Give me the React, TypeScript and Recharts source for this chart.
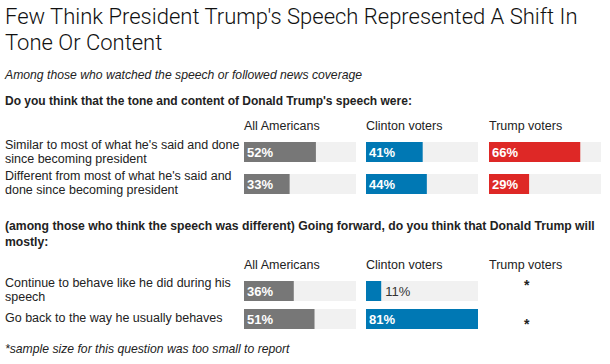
import React from "react";
import { BarChart, Bar, XAxis, YAxis } from "recharts";

// Survey data
const groups = ["All Americans", "Clinton voters", "Trump voters"];
const groupColors = ["#777777", "#0078b4", "#de2826"];

const q1Question = "Do you think that the tone and content of Donald Trump's speech were:";
const q1Answers = [
  ["Similar to most of what he's said and done", "since becoming president"],
  ["Different from most of what he's said and", "done since becoming president"],
];
const q1All = [52, 33];
const q1Clinton = [41, 44];
const q1Trump = [66, 29];

const q2Question = [
  "(among those who think the speech was different) Going forward, do you think that Donald Trump will",
  "mostly:",
];
const q2Answers = [
  ["Continue to behave like he did during his", "speech"],
  ["Go back to the way he usually behaves"],
];
const q2All = [36, 51];
const q2Clinton = [11, 81];
const q2Trump = ["*", "*"];

const maxValue = 81;

const FONT = "'Liberation Sans', Arial, Helvetica, sans-serif";
const TEXT = "#222";

const colX = [244, 366, 489];
const colW = 112;

const renderLabel = (props: any) => {
  const { x, y, width, height, value } = props;
  const inside = width > 25;
  return (
    <text
      x={inside ? x + 3 : x + width + 4}
      y={y + height / 2}
      dy={5}
      fill={inside ? "#fff" : "#333"}
      fontSize={13}
      fontWeight={inside ? "bold" : "normal"}
      fontFamily={FONT}
    >
      {`${value}%`}
    </text>
  );
};

function MiniBars({ values, color, band, left, top }: { values: number[]; color: string; band: number; left: number; top: number }) {
  const data = values.map((v, i) => ({ name: `r${i}`, value: v }));
  return (
    <div style={{ position: "absolute", left, top }}>
      <BarChart
        width={colW}
        height={band * values.length}
        data={data}
        layout="vertical"
        margin={{ top: 0, right: 0, bottom: 0, left: 0 }}
        barCategoryGap={band - 20}
      >
        <XAxis type="number" domain={[0, maxValue]} hide />
        <YAxis type="category" dataKey="name" hide />
        <Bar
          dataKey="value"
          fill={color}
          barSize={20}
          background={{ fill: "#f1f1f1" }}
          label={renderLabel}
          isAnimationActive={false}
        />
      </BarChart>
    </div>
  );
}

function Line({ text, top, left = 5, size = 12.5, weight = "normal", italic = false, lh = 15 }: any) {
  return (
    <div
      style={{
        position: "absolute",
        left,
        top: top - lh / 2,
        fontSize: size,
        lineHeight: `${lh}px`,
        fontWeight: weight,
        fontStyle: italic ? "italic" : "normal",
        whiteSpace: "nowrap",
        color: TEXT,
      }}
    >
      {text}
    </div>
  );
}

export default function App() {
  return (
    <div
      style={{
        position: "absolute",
        left: 0,
        top: 0,
        width: 610,
        height: 364,
        background: "#fff",
        fontFamily: FONT,
        overflow: "hidden",
      }}
    >
      <div
        style={{
          position: "absolute",
          left: 5,
          top: 4,
          fontFamily: "Roboto, sans-serif",
          fontWeight: 300,
          fontSize: 22,
          lineHeight: "26px",
          color: "#111",
          whiteSpace: "nowrap",
        }}
      >
        Few Think President Trump's Speech Represented A Shift In
        <br />
        Tone Or Content
      </div>
      <Line text="Among those who watched the speech or followed news coverage" top={75} italic size={12.2} />
      <Line text={q1Question} top={101} weight="bold" size={12} />

      {groups.map((g, i) => (
        <Line key={`h1-${g}`} text={g} top={126} left={colX[i]} />
      ))}
      {q1Answers.map((lines, r) =>
        lines.map((t, k) => <Line key={`a1-${r}-${k}`} text={t} top={145 + r * 31 + k * 14} />)
      )}
      <MiniBars values={q1All} color={groupColors[0]} band={32} left={colX[0]} top={136} />
      <MiniBars values={q1Clinton} color={groupColors[1]} band={32} left={colX[1]} top={136} />
      <MiniBars values={q1Trump} color={groupColors[2]} band={32} left={colX[2]} top={136} />

      {q2Question.map((t, k) => (
        <Line key={`q2-${k}`} text={t} top={226 + k * 16} weight="bold" size={12.2} />
      ))}
      {groups.map((g, i) => (
        <Line key={`h2-${g}`} text={g} top={265} left={colX[i]} />
      ))}
      {q2Answers.map((lines, r) =>
        lines.map((t, k) => <Line key={`a2-${r}-${k}`} text={t} top={283 + r * 35 + k * 14} />)
      )}
      <MiniBars values={q2All} color={groupColors[0]} band={28} left={colX[0]} top={277} />
      <MiniBars values={q2Clinton} color={groupColors[1]} band={28} left={colX[1]} top={277} />
      {q2Trump.map((t, r) => (
        <Line key={`t2-${r}`} text={t} top={285 + r * 39} left={524} size={14} weight="bold" />
      ))}

      <Line text="*sample size for this question was too small to report" top={349} italic size={12.2} />
    </div>
  );
}
